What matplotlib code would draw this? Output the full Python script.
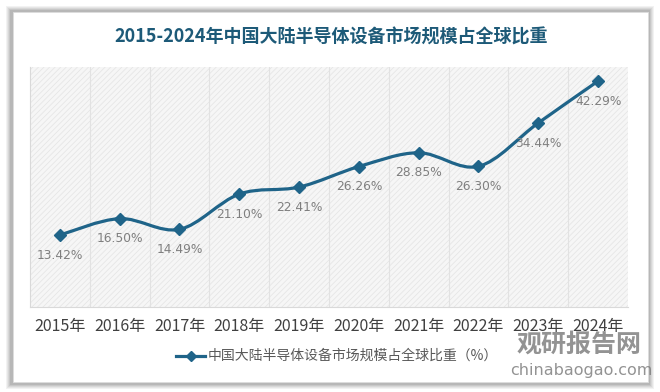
import numpy as np
import matplotlib
matplotlib.use('Agg')
from matplotlib import pyplot as plt
from matplotlib.patches import Rectangle, PathPatch, Arc
from matplotlib.path import Path

plt.rcParams['font.family'] = ['Noto Sans CJK SC', 'DejaVu Sans']
plt.rcParams['hatch.color'] = '#e3e3e3'
plt.rcParams['hatch.linewidth'] = 0.6

years = ['2015年', '2016年', '2017年', '2018年', '2019年',
         '2020年', '2021年', '2022年', '2023年', '2024年']
share = [13.42, 16.50, 14.49, 21.10, 22.41, 26.26, 28.85, 26.30, 34.44, 42.29]
title = '2015-2024年中国大陆半导体设备市场规模占全球比重'
legend_label = '中国大陆半导体设备市场规模占全球比重（%）'

line_color = '#1f6489'

fig = plt.figure(figsize=(6.6, 3.92), dpi=100)
fig.patch.set_facecolor('white')

# card with soft shadow
W, H = 660, 392
for i, a in enumerate([0.05, 0.05, 0.06, 0.07, 0.08]):
    d = 6 - i
    fig.patches.append(Rectangle(((12 - d) / W, (392 - 383 - d) / H),
                                 (636 + 2 * d) / W, (371 + 2 * d) / H,
                                 transform=fig.transFigure, facecolor='black',
                                 alpha=a, edgecolor='none', zorder=0))
fig.patches.append(Rectangle((13 / W, 10 / H), 635 / W, 370 / H,
                             transform=fig.transFigure, facecolor='white',
                             edgecolor='#dddddd', linewidth=0.6, zorder=1))

ax = fig.add_axes([30 / W, 1 - 306.6 / H, 598 / W, 240 / H])
ax.set_zorder(2)
ax.set_facecolor('#f6f6f6')
ax.add_patch(Rectangle((0, 0), 1, 1, transform=ax.transAxes, facecolor='none',
                       hatch='//////', edgecolor='#e6e6e6', linewidth=0, zorder=0))

x = np.arange(len(years))
y = np.array(share)
ax.set_xlim(-0.5, len(years) - 0.5)
ax.set_ylim(0, 45)

# vertical grid between categories
for b in np.arange(0.5, len(years) - 1, 1):
    ax.axvline(b, color='#e2e2e2', linewidth=0.8, zorder=1)

# smooth line through the points (Catmull-Rom as cubic beziers)
verts = [(x[0], y[0])]
codes = [Path.MOVETO]
pts = list(zip(x, y))
for i in range(len(pts) - 1):
    p0 = pts[i - 1] if i > 0 else pts[i]
    p1 = pts[i]
    p2 = pts[i + 1]
    p3 = pts[i + 2] if i + 2 < len(pts) else pts[i + 1]
    c1 = (p1[0] + (p2[0] - p0[0]) / 6, p1[1] + (p2[1] - p0[1]) / 6)
    c2 = (p2[0] - (p3[0] - p1[0]) / 6, p2[1] - (p3[1] - p1[1]) / 6)
    verts += [c1, c2, p2]
    codes += [Path.CURVE4] * 3
ax.add_patch(PathPatch(Path(verts, codes), facecolor='none', edgecolor=line_color,
                       linewidth=2.3, zorder=3, capstyle='round'))
ax.plot(x, y, linestyle='none', marker='D', markersize=6, color=line_color, zorder=4)

for xi, yi in zip(x, y):
    ax.annotate(f'{yi:.2f}%', (xi, yi), xytext=(0, -14.5), textcoords='offset points',
                ha='center', va='center', fontsize=8.8, color='#7f7f7f',
                family=['DejaVu Sans'], zorder=5)

ax.set_yticks([])
ax.set_xticks(x)
ax.set_xticklabels(years, fontsize=11.5, color='#404040')
ax.tick_params(axis='x', length=0, pad=8)
for s in ['top', 'right']:
    ax.spines[s].set_visible(False)
ax.spines['left'].set_color('#d9d9d9')
ax.spines['bottom'].set_color('#d9d9d9')

fig.text(331 / W, 1 - 37 / H, title, ha='center', va='center', fontsize=13,
         fontweight='bold', color='#1d5a78')

# legend
ly = 1 - 356 / H
fig.add_artist(plt.Line2D([176 / W, 205 / W], [ly, ly], color=line_color, linewidth=2.3,
                          transform=fig.transFigure))
fig.add_artist(plt.Line2D([190.5 / W], [ly], marker='D', markersize=5, color=line_color,
                          transform=fig.transFigure))
fig.text(208 / W, ly, legend_label, ha='left', va='center', fontsize=10, color='#595959')

# watermark
fig.text(579 / W, 1 - 345 / H, '观研报告网', ha='center', va='center', fontsize=18,
         fontweight='bold', color='#808080', alpha=0.85, zorder=6)
fig.text(581 / W, 1 - 370 / H, 'chinabaogao.com', ha='center', va='center', fontsize=11.5,
         color='#808080', alpha=0.85, zorder=6, family=['DejaVu Sans'])
for r, t1, t2 in [(34, 60, 250), (24, 240, 60), (14, 70, 260)]:
    fig.add_artist(Arc((500 / W, 1 - 342 / H), r / W, r / H, theta1=t1, theta2=t2,
                       color='#9a9a9a', alpha=0.7, linewidth=3.5, transform=fig.transFigure))

fig.savefig('out.png', dpi=100, facecolor=fig.get_facecolor())
